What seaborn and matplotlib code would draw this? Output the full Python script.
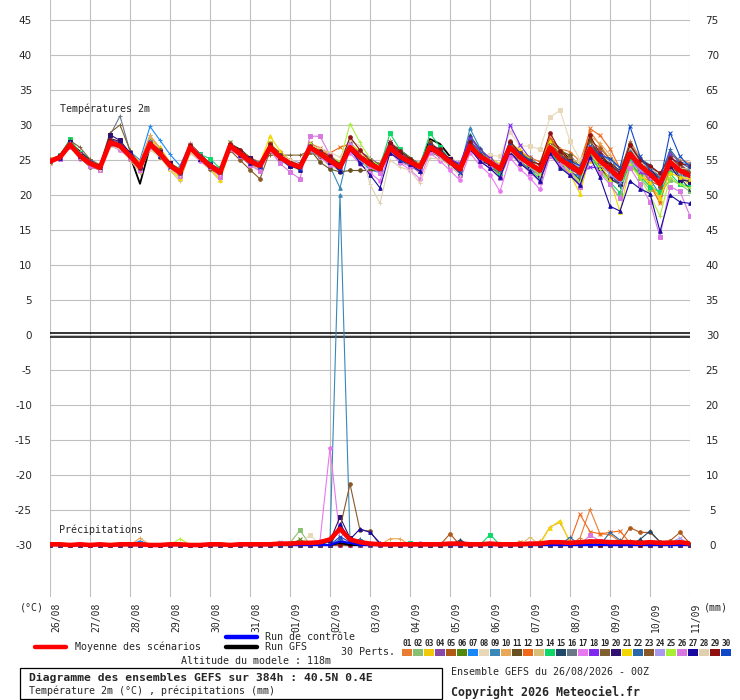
import matplotlib
matplotlib.use('Agg')
import matplotlib.pyplot as plt
from matplotlib.patches import Rectangle
from matplotlib.lines import Line2D
from matplotlib.transforms import ScaledTranslation
import seaborn as sns

# ---------------- data ----------------
hours = list(range(0, 385, 6))          # 65 forecast steps, every 6 h
day_labels = ['26/08', '27/08', '28/08', '29/08', '30/08', '31/08', '01/09', '02/09',
              '03/09', '04/09', '05/09', '06/09', '07/09', '08/09', '09/09', '10/09', '11/09']

# ensemble mean 2 m temperature (°C)
temp_mean = [24.8, 25.4, 27.2, 25.6, 24.5, 23.9, 27.5, 27.0, 25.6, 24.0, 27.3, 25.9,
             24.2, 23.2, 26.8, 25.4, 24.2, 23.2, 27.0, 25.9, 24.8, 24.2, 26.8, 25.4,
             24.5, 24.0, 26.8, 25.9, 24.9, 24.0, 26.8, 25.4, 24.4, 23.7, 26.8, 25.5,
             24.7, 24.0, 26.8, 25.9, 24.7, 23.7, 27.0, 25.5, 24.7, 23.7, 26.8, 25.4,
             24.4, 23.5, 26.8, 25.1, 24.2, 23.2, 26.6, 24.9, 23.7, 22.3, 25.9, 24.2,
             23.0, 21.6, 24.7, 23.5, 22.8]

# each member's departure from the mean (°C)
dev_01 = [0.2,0.3,0.4,0.2, 0.1,0.3,0.5,0.3, 0.4,0.6,1.2,0.8, 0.5,0.3,0.6,0.4, 0.2,0.0,0.3,0.5, 0.6,0.4,0.2,0.0, -0.3,-0.2,0.4,0.6, 0.8,0.5,0.3,0.2, 0.5,0.8,1.0,0.6, 0.2,0.0,-0.4,-0.2, 0.3,0.5,0.8,0.4, 0.0,-0.5,-0.8,-0.3, 0.4,0.9,1.2,1.5, 2.0,1.6,2.5,2.2, 1.4,0.8,1.8,1.2, 0.5,-0.5,1.0,1.5, 1.8]
dev_02 = [-0.2,-0.1,0.3,0.0, -0.2,0.1,0.2,-0.3, 0.0,0.3,0.5,0.2, -0.2,-0.4,0.0,0.3, 0.4,0.2,-0.3,-0.5, -0.2,0.3,0.6,0.4, 0.2,-0.3,-0.6,-0.4, 0.0,0.4,0.7,0.5, 0.3,0.0,-0.5,-0.7, -0.4,0.2,0.6,0.3, 0.0,-0.4,0.3,0.6, 0.8,0.4,-0.2,-0.6, -0.9,-0.5,0.3,0.6, 0.2,-0.8,-1.5,-1.0, -0.5,0.5,-1.0,-1.8, -2.2,-1.5,-2.5,-2.0, -2.3]
dev_03 = [0.1,0.0,-0.3,-0.2, 0.2,0.4,0.3,0.1, -0.3,-0.5,0.6,0.9, 0.3,-0.8,-0.4,0.0, 0.1,-0.6,-0.2,0.2, 0.0,-0.4,0.8,0.3, -0.2,-0.5,0.2,0.5, 0.3,0.1,-0.2,-0.4, -0.6,-0.3,0.5,0.8, 0.6,0.3,0.0,-0.3, -0.6,-0.8,-0.3,0.2, 0.5,0.8,0.4,0.0, -0.4,-1.0,-0.5,0.2, -0.3,-1.3,-1.8,-0.5, 0.6,1.0,-0.6,-1.2, -1.8,-2.4,-1.2,-0.6, -1.5]
dev_04 = [0.0,0.2,0.1,-0.1, -0.3,-0.2,0.4,0.6, 0.2,-0.3,-0.5,-0.2, 0.2,0.4,0.3,0.0, -0.3,0.0,0.4,0.2, -0.2,-0.5,-0.3,0.1, 0.4,0.6,0.3,-0.2, -0.5,-0.3,0.4,0.8, 0.9,0.6,0.2,-0.2, -0.5,-0.8,-0.4,0.1, 0.5,0.3,-0.2,-0.6, -0.9,-0.4,0.6,1.0, 0.7,0.2,-0.5,-1.0, -1.2,-0.3,0.8,1.4, 1.0,0.4,0.9,0.6, 0.2,0.8,1.5,1.0, 0.4]
dev_05 = [0.3,0.1,-0.2,0.1, 0.4,0.2,-0.4,-0.2, 0.1,0.4,0.2,-0.3, -0.5,-0.2,0.3,0.5, 0.3,0.1,-0.2,-0.4, -0.3,0.0,0.4,0.7, 0.5,0.2,-0.3,-0.6, -0.4,0.1,0.5,0.2, -0.1,-0.4,-0.8,-0.5, 0.0,0.5,0.8,0.4, 0.1,-0.3,0.5,0.9, 0.6,0.2,-0.4,-0.8, -0.5,0.3,0.9,0.6, 0.2,0.6,1.2,1.8, 1.4,0.9,0.5,-0.5, -1.0,-0.3,0.5,0.3, -0.8]
dev_06 = [-0.1,-0.3,0.2,0.4, 0.1,-0.2,-0.3,0.0, 0.3,0.1,-0.2,0.1, 0.3,0.5,0.0,-0.3, -0.1,0.3,0.5,0.3, 0.0,-0.3,-0.5,-0.2, 0.1,0.4,0.6,0.3, -0.1,-0.4,-0.2,0.2, 0.4,0.7,0.4,0.0, -0.3,-0.6,-0.8,-0.3, 0.2,0.6,0.2,-0.2, -0.5,-0.9,-0.4,0.3, 0.8,0.5,-0.3,-0.8, -0.4,0.4,-0.6,-1.2, -1.5,-0.8,-1.8,-1.0, -0.4,0.6,-0.5,-1.2, -0.8]
dev_07 = [0.0,0.1,0.3,0.5, 0.3,0.0,-0.2,0.2, 0.6,1.0,2.5,1.9, 1.6,1.0,0.4,0.0, -0.2,-0.4,0.2,0.4, 0.1,-0.2,0.0,-0.3, -0.5,-0.2,0.3,0.1, -0.2,0.3,0.0,-0.5, -0.8,-0.5,0.2,0.6, 0.3,-0.2,-0.5,-0.2, 0.4,0.8,0.6,0.2, -0.3,-0.6,0.0,0.5, 1.0,0.6,0.2,-0.4, -1.0,-0.6,0.0,0.8, 1.2,1.6,0.8,0.0, -0.8,-1.5,0.4,1.2, 1.6]
dev_08 = [-0.3,-0.2,-0.4,-0.1, 0.0,0.2,-0.3,-0.6, -0.4,-0.1,-0.8,-0.6, -0.3,-0.2,-0.5,-0.2, 0.0,0.2,-0.3,-0.5, -0.4,-0.1,-0.3,0.2, 0.4,0.3,-0.2,-0.6, -0.8,-0.5,-0.3,0.0, 0.2,0.4,-0.3,-0.7, -0.5,-0.2,0.0,0.3, 0.6,0.8,-0.5,0.3, 1.0,1.8,2.2,1.6, 2.6,3.0,4.3,7.0, 3.5,1.8,0.5,0.8, 1.0,0.5,-0.5,-0.3, 0.2,0.8,0.3,-0.4, 0.5]
dev_09 = [0.2,0.0,-0.2,0.1, 0.3,0.2,0.0,-0.3, -0.2,0.2,0.4,0.1, -0.2,-0.3,0.2,0.4, 0.2,-0.1,-0.4,-0.2, 0.1,0.3,0.2,-0.1, -0.3,-0.2,0.1,-0.2, -0.8,-3.0,0.2,0.4, 0.0,-0.3,0.3,0.5, 0.2,-0.1,0.4,0.7, 0.3,0.0,2.5,1.2, 0.4,-0.3,-0.6,-0.2, 0.3,0.6,0.2,-0.3, -0.6,-0.2,0.5,0.9, 0.6,1.0,1.5,0.8, 0.2,-0.4,-1.2,-0.6, 0.0]
dev_10 = [0.4,0.2,0.0,-0.2, 0.1,0.3,0.2,0.4, 0.5,0.8,1.2,0.6, 0.2,0.0,0.3,0.1, -0.2,0.2,0.5,0.3, 0.4,0.6,0.3,0.0, -0.2,0.1,0.4,0.2, 0.5,0.8,0.4,0.1, -0.3,0.2,0.6,0.4, 0.2,0.5,0.1,-0.3, -0.5,-0.2,0.4,0.8, 0.5,0.2,0.6,1.0, 0.4,-0.4,0.8,1.5, 1.2,0.6,1.8,2.5, 2.0,1.4,0.5,-0.8, -1.5,-2.0,-0.5,0.4, -0.2]
dev_11 = [0.1,-0.2,-0.4,-0.1, 0.2,0.4,0.1,-0.2, -0.4,-0.2,0.3,0.5, 0.2,-0.1,-0.3,0.0, 0.3,0.5,0.2,-0.3, -0.5,-0.2,0.3,0.6, 0.3,0.0,-0.3,-1.2, -1.2,-0.7,-3.3,-1.9, -0.9,-0.2,-0.5,-0.3, 0.0,0.3,0.6,0.2, -0.3,-0.5,-0.2,0.3, 0.5,0.0,-0.6,-1.0, -0.5,0.3,0.9,1.2, 1.5,0.8,1.2,0.6, -0.2,-0.8,-0.3,0.6, 1.0,1.5,0.8,0.2, 0.6]
dev_12 = [-0.1,0.2,0.0,0.3, 0.2,-0.1,-0.3,0.1, 0.3,0.0,0.2,0.4, 0.1,-0.2,0.4,0.2, -0.1,0.2,0.0,-0.3, -0.1,0.2,0.5,0.2, 0.0,0.3,0.6,0.8, 1.1,2.8,0.5,0.6, 0.2,-0.2,0.3,0.5, 0.0,-0.4,-0.2,0.3, 0.5,0.2,0.6,0.4, -0.2,-0.5,0.2,0.8, 1.0,1.2,1.5,1.2, 0.8,0.4,2.9,3.6, 2.9,1.5,1.0,0.4, -1.5,-2.8,-0.8,0.5, 0.8]
dev_13 = [-0.3,-0.1,0.2,0.0, -0.2,-0.4,-0.5,-0.3, -0.6,-0.8,-0.6,-0.4, -0.7,-1.2,-0.8,-0.5, -0.6,-1.2,-0.5,-0.2, -0.4,-0.6,-0.2,0.1, -0.2,-0.5,-0.3,0.0, 0.2,-0.2,-0.5,-0.2, 0.1,0.4,0.2,-0.2, -0.5,-0.3,0.3,0.5, 0.2,-0.2,-0.6,-0.3, 0.2,0.6,0.9,0.4, 0.0,-0.6,-0.2,0.5, 1.0,1.4,0.6,0.0, -0.5,-1.2,-0.6,0.3, 0.6,1.0,-0.3,-0.8, -0.4]
dev_14 = [0.1,0.3,0.8,0.4, 0.2,0.0,0.2,0.4, 0.1,0.2,0.0,-0.2, -0.1,0.2,0.0,0.4, 1.0,0.6,0.2,0.0, -0.2,0.0,0.3,0.1, -0.1,-0.3,0.1,0.3, 0.2,0.5,0.8,0.4, 0.1,0.4,2.0,1.0, 0.5,0.3,2.0,1.0, 0.3,-0.1,0.4,0.2, -0.2,-0.5,-0.2,-0.5, -0.8,-1.2,-0.6,-1.0, -1.4,-1.6,-0.8,-1.5, -1.8,-2.0,-0.9,-1.5, -1.8,-1.2,-1.6,-2.0, -1.5]
dev_15 = [0.0,-0.1,0.1,0.2, 0.0,-0.2,0.1,0.3, 0.2,0.0,-0.3,-0.1, 0.1,0.3,0.2,0.0, -0.2,-0.4,-0.1,0.1, 0.2,0.0,-0.2,-0.4, -0.1,0.2,0.4,0.1, -0.3,-0.6,-0.2,0.3, 0.5,0.2,-0.1,-0.4, -0.6,-0.3,0.2,0.5, 0.3,0.6,1.5,1.0, 0.2,-0.2,-0.4,0.0, 0.4,0.8,0.4,-0.3, -0.8,-1.0,-0.2,0.4, 0.8,1.2,0.6,0.9, 1.2,0.8,0.2,-1.0, -2.0]
dev_16 = [0.1,0.0,0.2,0.3, 0.2,0.3,1.0,4.3, 0.6,-0.2,0.3,0.2, 0.0,0.2,0.1,-0.2, -0.3,0.0,0.2,0.4, 0.3,0.1,-0.1,0.2, 0.4,0.1,-0.2,-0.5, -0.3,0.1,0.4,0.2, 0.0,-0.3,-0.6,-0.2, 0.3,0.6,0.3,-0.1, -0.4,-0.2,0.5,0.3, 0.6,0.2,-0.3,-0.6, -0.9,-0.5,0.2,0.5, 0.1,-0.5,-1.0,-0.5, 0.3,0.8,0.2,-0.6, 0.2,0.8,1.0,0.5, 0.8]
dev_17 = [-0.2,0.0,-0.3,-0.4, -0.2,0.0,-0.4,-0.6, -0.3,0.1,-0.5,-0.2, 0.0,-0.3,-0.4,-0.6, -0.4,-0.2,-0.6,-0.3, 0.0,-0.3,-0.5,-0.3, -0.1,0.2,-0.2,-0.5, -0.6,-0.3,-0.8,-1.0, -1.2,-1.7,-0.6,-0.9, -1.1,-1.7,-0.8,-1.0, -1.2,-1.6,-1.0,-1.3, -1.8,-3.2,-1.5,-1.7, -2.0,-2.7,-1.2,-0.8, -1.0,-1.5,-0.5,-0.2, 0.5,1.0,0.0,-0.8, -0.5,0.4,-0.7,-1.2, -0.5]
dev_18 = [0.0,0.2,-0.1,0.1, 0.3,0.1,0.4,0.2, -0.1,-0.3,0.2,0.4, 0.3,0.1,-0.2,0.0, 0.2,0.4,0.1,-0.1, -0.3,-0.1,0.3,0.5, 0.2,-0.1,0.2,0.0, -0.2,0.1,0.6,0.4, 0.2,0.5,0.8,0.5, 0.3,0.0,0.3,0.6, 0.4,0.8,1.2,0.9, 0.6,0.3,3.2,1.8, 0.8,0.4,0.2,-0.3, -0.5,-0.2,-2.6,-1.1, 0.0,0.6,-0.4,-0.9, -0.3,0.5,1.0,0.3, -0.4]
dev_19 = [0.2,0.3,0.6,1.2, 0.6,0.4,1.4,3.0, 0.8,0.2,-0.3,-0.1, 0.3,0.5,0.2,0.0, -0.2,0.1,0.4,0.2, 0.0,0.4,-1.1,0.3, 1.2,1.7,-0.5,-0.3, 0.0,0.4,0.2,-0.2, -0.5,-0.2,0.4,0.7, 0.4,0.1,-0.3,-0.6, -0.2,0.3,0.7,0.4, 0.1,-0.4,0.1,0.6, 0.9,0.4,-0.2,0.5, 1.1,0.6,0.9,0.2, -0.5,-1.0,-0.4,0.4, 0.9,0.3,-0.8,-0.2, 0.5]
dev_20 = [0.1,0.2,0.3,0.2, 0.0,0.3,1.1,0.8, 0.4,0.0,-0.2,0.2, 0.4,0.2,0.0,-0.2, 0.1,-0.2,0.0,0.3, 0.5,0.3,0.1,-0.2, -0.4,-0.1,0.3,0.1, -0.2,0.2,-0.3,-0.5, -0.3,0.1,0.5,0.3, 0.0,-0.4,-0.2,0.2, 0.5,0.2,-0.3,-0.6, -0.4,0.1,0.5,0.2, -0.2,-0.6,-0.2,0.4, 0.7,0.2,-0.5,-1.0, -1.3,-0.8,-0.2,0.5, 0.9,0.4,-0.5,-1.3, -0.9]
dev_21 = [-0.1,-0.3,0.0,0.2, 0.1,-0.1,-0.3,-0.1, 0.2,0.3,0.0,-0.3, -0.5,-0.8,-0.2,0.1, -0.3,-1.0,-0.5,-0.2, 0.1,0.4,1.6,0.9, 0.4,0.1,0.3,0.5, 0.2,-0.2,0.5,0.8, 0.4,0.0,-0.3,-0.1, 0.2,0.5,0.2,-0.2, -0.4,-0.1,0.3,0.6, 0.3,-0.2,0.6,1.0, 0.8,0.4,0.9,0.2, -1.2,-3.0,-1.0,-0.5, -1.5,-4.7,-1.8,-1.5, -1.2,-2.0,-1.5,-1.0, -0.5]
dev_22 = [0.2,0.1,-0.1,-0.2, 0.0,0.2,0.3,0.1, -0.2,0.1,0.4,0.3, 0.0,-0.2,0.3,0.5, 0.2,0.0,-0.3,0.1, 0.3,0.5,0.2,0.0, 0.3,0.5,0.4,0.2, -0.1,-0.4,0.0,0.3, 0.0,-0.4,-0.2,0.2, 0.5,0.2,0.0,-0.4, -0.6,-0.3,0.8,0.6, 0.2,-0.3,-0.1,0.4, 0.7,0.2,-0.4,-0.2, 0.4,1.0,0.4,0.0, -0.6,-1.0,0.5,1.0, 1.3,0.8,1.8,1.2, 1.0]
dev_23 = [-0.1,0.1,0.0,-0.3, -0.5,-0.3,-0.1,0.2, 0.0,-0.4,-0.2,-0.5, -0.3,0.0,0.2,-0.2, -0.5,-0.3,-0.6,-0.9, -1.2,-1.9,-0.5,-0.2, 0.0,-0.3,-0.6,-0.3, -0.1,0.2,0.4,0.1, -0.2,-0.5,-0.3,0.0, 0.2,-0.1,-0.5,-0.3, 0.0,0.4,0.2,-0.2, 0.0,0.5,0.9,0.6, 0.2,-0.3,0.4,0.8, 0.5,0.0,-0.6,-0.3, 0.4,0.9,1.4,0.8, 0.2,-0.4,0.3,0.8, 0.3]
dev_24 = [0.0,-0.2,0.1,0.3, 0.2,0.0,-0.2,-0.4, -0.2,0.0,0.3,0.1, -0.1,0.1,0.5,0.3, 0.0,-0.2,0.2,0.4, 0.1,-0.3,-0.1,0.2, 0.0,-0.2,-0.5,-0.3, 0.1,0.3,-0.2,-0.5, -0.3,0.1,0.2,-0.1, -0.4,-0.2,0.1,0.3, 0.1,-0.3,-0.5,-0.2, 0.3,0.6,0.2,-0.1, -0.4,-0.8,-0.4,0.2, 0.4,0.8,0.3,-0.4, -0.8,-0.4,-1.2,-0.6, 0.0,0.5,0.4,-0.2, 0.2]
dev_25 = [-0.2,0.0,0.2,0.0, -0.1,0.2,0.0,-0.2, 0.1,0.3,0.2,0.0, -0.2,-0.1,0.1,0.3, 0.1,-0.1,-0.3,0.0, 0.3,0.2,0.5,0.3, 0.0,0.2,0.6,0.4, 0.5,0.8,3.4,2.1, 0.8,0.3,0.2,-0.2, -0.5,-0.3,0.0,0.3, 0.2,-0.2,-0.4,-0.1, 0.2,0.0,0.5,0.3, -0.2,-0.6,0.2,-0.3, -0.8,-1.4,-0.3,-1.2, -2.0,-2.8,-1.5,-1.8, -3.0,-4.6,-2.2,-2.0, -1.8]
dev_26 = [0.0,-0.2,-0.3,-0.2, -0.4,-0.3,0.0,-0.2, -0.3,-0.5,-0.2,0.0, -0.3,-0.5,-0.3,-0.1, -0.2,-0.6,-0.4,-0.3, -0.5,-0.8,-0.4,-0.9, -1.2,-1.7,1.6,2.5, 0.8,0.2,0.4,0.1, -0.3,-0.6,-0.4,-0.8, -0.6,-0.4,-0.6,-0.3, -0.5,-0.8,-0.5,-0.6, -0.9,-1.3,-1.0,-0.8, -1.2,-1.6,-1.2,-0.8, -1.3,-2.0,-1.5,-1.8, -2.2,-2.8,-2.0,-2.6, -4.0,-7.6,-3.5,-3.0, -5.8]
dev_27 = [0.1,-0.1,-0.2,0.0, 0.2,0.0,-0.2,0.3, 0.5,0.2,-0.1,-0.3, -0.1,0.2,0.0,-0.2, 0.0,0.3,0.1,-0.2, -0.3,-0.1,0.2,0.0, -0.2,-0.4,-0.1,0.2, 0.0,-0.6,-0.3,-0.8, -1.5,-2.7,-0.8,-0.5, -0.3,-0.6,-0.2,0.1, -0.3,-0.6,-0.4,-0.7, -0.9,-1.2,-0.6,-0.9, -1.0,-1.5,-0.8,-1.2, -1.4,-1.8,-1.2,-2.4, -5.3,-4.6,-3.9,-3.3, -2.8,-6.8,-4.7,-4.5, -4.0]
dev_28 = [-0.2,0.0,-0.4,-0.2, 0.0,-0.3,-0.6,-0.4, -0.1,0.2,-0.2,-0.4, -0.6,-0.3,-0.6,-0.3, 0.0,-0.2,-0.4,0.0, 0.2,0.4,0.0,0.3, 0.6,0.4,0.2,0.8, 1.2,1.4,1.0,1.6, -2.9,-4.9,-1.8,-1.5, -1.2,-2.3,-1.5,-0.8, -0.5,-0.8,-0.4,0.0, 0.3,0.0,-0.5,-0.3, 0.2,0.6,0.3,0.0, 0.5,1.0,0.6,0.2, -0.3,0.4,0.9,0.5, 0.8,1.3,0.6,0.3, 0.9]
dev_29 = [0.1,0.2,0.0,-0.1, 0.1,0.2,0.4,0.2, 0.0,-0.2,0.1,0.3, 0.2,0.0,0.3,0.1, -0.1,0.1,0.3,0.5, 0.4,0.2,0.5,0.3, 0.1,0.3,0.2,0.4, 0.6,0.4,1.5,1.0, 0.5,0.2,0.6,0.8, 0.5,0.2,0.4,0.6, 0.3,0.0,0.5,0.2, -0.2,0.3,0.8,0.6, 0.4,0.9,2.1,1.2, 0.6,0.3,1.9,1.0, 0.6,0.9,1.2,0.8, 1.2,1.5,0.6,1.0, 1.4]
dev_30 = [0.0,0.1,-0.2,0.0, 0.2,0.1,-0.1,0.1, 0.3,0.0,-0.2,-0.4, -0.2,0.0,-0.1,0.2, 0.3,0.1,-0.2,-0.1, 0.0,-0.2,0.1,0.3, 0.0,-0.3,0.0,0.2, 0.1,-0.2,-0.4,-0.1, 0.2,0.0,-0.3,-0.5, -0.2,0.1,0.3,0.1, -0.2,-0.5,-0.3,0.0, 0.2,-0.1,0.3,0.6, 0.4,0.0,-0.4,0.2, 0.6,1.0,0.4,0.8, 1.5,1.6,3.9,1.3, 0.5,0.2,4.2,2.0, 1.2]
dev_control = [0.0,0.1,0.2,0.0, -0.1,0.1,0.3,0.4, 0.2,0.0,0.1,0.3, 0.2,0.1,0.2,0.0, -0.1,0.0,0.3,0.2, 0.1,0.0,0.2,0.1, -0.1,-0.2,0.1,0.3, 0.2,0.0,0.2,0.1, -0.2,-0.4,-0.1,0.2, 0.0,-0.3,0.1,0.3, 0.1,-0.2,0.0,0.2, 0.0,-0.4,-0.2,0.2, 0.5,0.3,0.4,0.6, 0.3,0.0,0.5,0.2, -0.5,-0.8,-0.3,0.2, 0.6,0.4,-0.2,-0.6, -0.3]
dev_gfs = [0.0,0.2,0.3,0.6, 0.4,0.2,0.5,0.6, 0.0,-2.4,-0.4,-0.2, 0.0,0.2,0.5,0.4, 0.2,0.0,0.3,0.6, 0.5,0.3,0.1,0.2, 0.3,0.0,0.2,0.5, 0.4,0.1,0.0,0.3, 0.2,0.0,0.6,0.9, 0.6,0.3,1.2,1.4, 0.8,0.2,0.5,0.8, 0.6,0.0,0.3,0.5, 0.2,-0.3,1.2,1.5, 0.9,0.2,1.0,0.7, 0.3,0.0,0.6,1.0, 0.8,0.2,0.2,0.4, 0.6]

# precipitation (mm per 6 h)
precip_mean = [0.1,0.1,0.0,0.1, 0.0,0.1,0.0,0.1, 0.1,0.1,0.0,0.0, 0.1,0.1,0.0,0.0, 0.1,0.1,0.0,0.1,
               0.1,0.1,0.1,0.2, 0.2,0.3,0.3,0.4, 0.8,2.3,0.8,0.4, 0.2,0.1,0.1,0.1, 0.1,0.1,0.1,0.1,
               0.2,0.2,0.1,0.1, 0.2,0.1,0.1,0.1, 0.2,0.2,0.4,0.4, 0.3,0.4,0.5,0.5, 0.4,0.4,0.4,0.3,
               0.4,0.3,0.3,0.4, 0.2]
precip_control = [0.0]*29 + [0.5, 0.3] + [0.0]*34
precip_gfs = [0.0]*29 + [0.3] + [0.0]*35
# (member, step, mm) for every non-zero member value
precip_events = [
    (10, 9, 1.0), (7, 9, 0.6), (1, 9, 0.4), (25, 13, 0.9), (24, 23, 0.5),
    (2, 24, 0.3), (2, 25, 2.1), (6, 25, 0.8), (8, 26, 1.5),
    (17, 27, 0.6), (17, 28, 13.9), (17, 29, 1.0),
    (9, 28, 0.5), (9, 29, 50.0), (9, 30, 0.6),
    (20, 28, 0.6), (20, 29, 4.0), (20, 30, 1.0),
    (27, 29, 3.0), (27, 30, 0.8), (27, 31, 2.3), (27, 32, 1.8), (27, 33, 0.3),
    (23, 29, 2.4), (23, 30, 8.7), (23, 31, 2.1), (23, 32, 2.0),
    (30, 29, 1.2), (30, 30, 0.4), (22, 29, 0.8), (22, 31, 0.9),
    (10, 34, 0.9), (10, 35, 0.9), (14, 36, 0.3), (17, 37, 0.3),
    (5, 40, 1.6), (15, 41, 0.7), (6, 41, 0.5), (14, 44, 1.5), (21, 45, 0.3),
    (12, 47, 0.5), (13, 48, 1.1), (1, 49, 0.6), (1, 50, 0.3),
    (21, 49, 0.2), (21, 50, 2.5), (21, 51, 3.5), (21, 52, 0.3),
    (10, 49, 0.3), (10, 50, 2.6), (10, 51, 3.2), (10, 52, 0.5), (22, 52, 1.1),
    (12, 52, 0.5), (12, 53, 4.4), (12, 54, 1.9), (12, 55, 1.6), (12, 56, 1.8), (12, 57, 2.0), (12, 58, 0.3),
    (1, 53, 1.0), (1, 54, 5.1), (1, 55, 1.6), (1, 56, 1.5), (1, 57, 0.5),
    (26, 54, 1.4), (26, 55, 0.6), (22, 56, 1.8), (22, 57, 0.7),
    (5, 57, 0.4), (5, 58, 2.5), (5, 59, 1.8), (5, 60, 1.8), (5, 61, 0.5), (5, 62, 0.6), (5, 63, 1.8), (5, 64, 0.2),
    (15, 59, 0.8), (15, 60, 2.0), (15, 61, 0.4), (24, 62, 0.3), (24, 63, 1.0),
    (30, 55, 0.4), (30, 59, 0.5), (7, 61, 0.4), (14, 54, 0.5), (17, 56, 0.4),
    (2, 54, 0.6), (3, 50, 0.4), (19, 58, 0.6), (28, 60, 0.4), (29, 62, 0.3),
]

member_ids = ['01', '02', '03', '04', '05', '06', '07', '08', '09', '10', '11', '12', '13', '14', '15',
              '16', '17', '18', '19', '20', '21', '22', '23', '24', '25', '26', '27', '28', '29', '30']
member_colors = ['#e87d32', '#88c070', '#f0c808', '#8848a8', '#b05818', '#508810', '#1888f8', '#e8d8b8',
                 '#3888b8', '#e8a858', '#685020', '#f06818', '#d8c078', '#10d868', '#204868', '#687888',
                 '#e878f0', '#8028f0', '#806030', '#301070', '#f0d800', '#2868a8', '#885828', '#a898f0',
                 '#a8f038', '#d878e0', '#1808a0', '#e0d0b0', '#901010', '#1048c8']

# ---------------- build ----------------
member_devs = [dev_01, dev_02, dev_03, dev_04, dev_05, dev_06, dev_07, dev_08, dev_09, dev_10,
               dev_11, dev_12, dev_13, dev_14, dev_15, dev_16, dev_17, dev_18, dev_19, dev_20,
               dev_21, dev_22, dev_23, dev_24, dev_25, dev_26, dev_27, dev_28, dev_29, dev_30]
for k, d in enumerate(member_devs + [dev_control, dev_gfs]):
    assert len(d) == 65, (k, len(d))
member_temps = [[m + d for m, d in zip(temp_mean, dev)] for dev in member_devs]
temp_control = [m + d for m, d in zip(temp_mean, dev_control)]
temp_gfs = [m + d for m, d in zip(temp_mean, dev_gfs)]
member_precip = [[0.0] * len(hours) for _ in member_ids]
for mem, step, mm in precip_events:
    member_precip[mem - 1][step] = mm

# ---------------- draw ----------------
sns.set_style('white')
MONO = 'DejaVu Sans Mono'
plt.rcParams['font.family'] = [MONO, 'DejaVu Sans']

W, H = 740, 700
fig = plt.figure(figsize=(7.4, 7.0), dpi=100)
fig.patch.set_facecolor('white')
ax = fig.add_axes([50 / W, 1 - 597 / H, 640 / W, 597 / H])
ax.set_xlim(0, 384)
ax.set_ylim(-262 / 7, 335 / 7)
ax2 = ax.twinx()
ax2.set_ylim(-262 / 7 + 30, 335 / 7 + 30)

markers = ['+', 's', '^', '+', 'o', 'x']
line_kw = dict(estimator=None, errorbar=None, legend=False)

sns.lineplot(x=hours, y=temp_gfs, color='black', lw=1.3, ax=ax, zorder=2, **line_kw)
sns.lineplot(x=hours, y=temp_control, color='#0000ff', lw=1.3, ax=ax, zorder=2, **line_kw)
for i, (vals, col) in enumerate(zip(member_temps, member_colors)):
    sns.lineplot(x=hours, y=vals, color=col, lw=0.8, marker=markers[i % 6], ms=2.6,
                 mec=col, mew=0.7, ax=ax, zorder=2.5, **line_kw)
sns.lineplot(x=hours, y=temp_mean, color='#ff0000', lw=3.5, ax=ax, zorder=4, **line_kw)

for i, (vals, col) in enumerate(zip(member_precip, member_colors)):
    sns.lineplot(x=hours, y=vals, color=col, lw=0.8, marker=markers[i % 6], ms=2.6,
                 mec=col, mew=0.7, ax=ax2, zorder=2, **line_kw)
sns.lineplot(x=hours, y=precip_gfs, color='black', lw=1.5, ax=ax2, zorder=3, **line_kw)
sns.lineplot(x=hours, y=precip_control, color='#0000ff', lw=1.5, ax=ax2, zorder=3, **line_kw)
sns.lineplot(x=hours, y=precip_mean, color='#ff0000', lw=3.3, ax=ax2, zorder=4, **line_kw)

# zero-degree double line
ax.axhline(0.22, color='black', lw=1.1, zorder=1.5)
ax.axhline(-0.22, color='black', lw=1.1, zorder=1.5)

# grid & axes
ax.set_xticks(hours[::4])
ax.set_xticklabels(day_labels, rotation=90, fontsize=7, family=MONO, va='top', ha='center')
ax.set_yticks(list(range(-30, 50, 5)))
ax.set_yticklabels([str(v) for v in range(-30, 50, 5)], fontsize=7.5, family='DejaVu Sans')
ax.grid(True, color='#c0c0c0', lw=0.8)
ax.set_axisbelow(True)
ax.tick_params(axis='x', length=0, pad=4.3)
ax.tick_params(axis='y', length=0, pad=13)
off = ScaledTranslation(6 / 100, 0, fig.dpi_scale_trans)
for lab in ax.get_xticklabels():
    lab.set_transform(lab.get_transform() + off)
ax.set_xlabel('')
ax.set_ylabel('')

ax2.set_yticks(list(range(0, 80, 5)))
ax2.set_yticklabels([str(v) for v in range(0, 80, 5)], fontsize=7.5, family='DejaVu Sans')
ax2.tick_params(axis='y', length=0, pad=16)
for lab in ax2.get_yticklabels():
    lab.set_horizontalalignment('center')
ax2.grid(False)
ax2.set_ylabel('')
for a in (ax, ax2):
    for s in a.spines.values():
        s.set_visible(False)


def px(x, y):
    return x / W, 1 - y / H


fs = 7.2
fig.text(*px(60, 109), 'Températures 2m', fontsize=fs, family=MONO, va='center', ha='left')
fig.text(*px(59, 530), 'Précipitations', fontsize=fs, family=MONO, va='center', ha='left')
fig.text(*px(20, 607), '(°C)', fontsize=fs, family=MONO, va='center', ha='left')
fig.text(*px(704, 607), '(mm)', fontsize=fs, family=MONO, va='center', ha='left')

# legend
fig.add_artist(Line2D([35 / W, 66 / W], [1 - 647 / H] * 2, color='#ff0000', lw=3.2))
fig.text(*px(75, 647), 'Moyenne des scénarios', fontsize=fs, family=MONO, va='center')
fig.add_artist(Line2D([226 / W, 257 / W], [1 - 637 / H] * 2, color='#0000ff', lw=3.2))
fig.text(*px(265, 637), 'Run de contrôle', fontsize=fs, family=MONO, va='center')
fig.add_artist(Line2D([226 / W, 257 / W], [1 - 647 / H] * 2, color='black', lw=3.2))
fig.text(*px(265, 647), 'Run GFS', fontsize=fs, family=MONO, va='center')
fig.text(*px(341, 652), '30 Perts.', fontsize=fs, family=MONO, va='center')
for i, (mid, col) in enumerate(zip(member_ids, member_colors)):
    x0 = 402 + 11 * i
    fig.add_artist(Rectangle((x0 / W, 1 - 656 / H), 10 / W, 7 / H, transform=fig.transFigure,
                             facecolor=col, edgecolor='none'))
    fig.text((x0 + 5) / W, 1 - 644 / H, mid, fontsize=5.6, family=MONO, weight='bold',
             va='center', ha='center')
fig.text(*px(256, 661), 'Altitude du modele : 118m', fontsize=fs, family=MONO, va='center', ha='center')

fig.add_artist(Rectangle((20 / W, 1 - 699 / H), 422 / W, 31 / H, transform=fig.transFigure,
                         facecolor='none', edgecolor='black', lw=0.9))
fig.text(*px(29, 678), 'Diagramme des ensembles GEFS sur 384h : 40.5N 0.4E', fontsize=8.2,
         family=MONO, weight='bold', va='center')
fig.text(*px(29, 691), 'Température 2m (°C) , précipitations (mm)', fontsize=fs, family=MONO, va='center')
fig.text(*px(451, 672), 'Ensemble GEFS du 26/08/2026 - 00Z', fontsize=fs, family=MONO, va='center')
fig.text(*px(451, 692), 'Copyright 2026 Meteociel.fr', fontsize=8.4, family=MONO, weight='bold', va='center')

fig.savefig('out.png', dpi=100, facecolor='white')
